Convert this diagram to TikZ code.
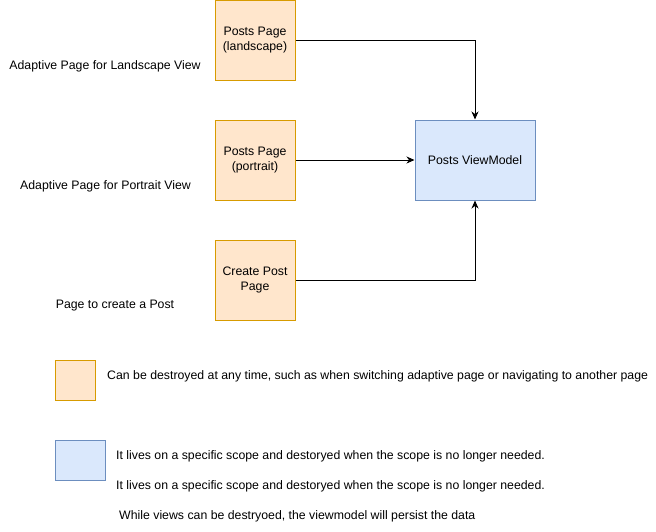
\documentclass[tikz,border=0pt]{standalone}
\usepackage{fontspec}
\setmainfont{Liberation Sans}
\usetikzlibrary{arrows.meta}
\definecolor{pagefill}{HTML}{FFE6CC}
\definecolor{pagedraw}{HTML}{D79B00}
\definecolor{vmfill}{HTML}{DAE8FC}
\definecolor{vmdraw}{HTML}{6C8EBF}
\tikzset{
    every node/.style={font=\fontsize{12.3}{14.5}\selectfont, inner sep=0pt},
    pagebox/.style={rectangle, draw=pagedraw, fill=pagefill, line width=1pt,
        minimum width=80pt, minimum height=80pt, align=center},
    vmbox/.style={rectangle, draw=vmdraw, fill=vmfill, line width=1pt,
        minimum width=120pt, minimum height=80pt, align=center}
}
\tikzset{
    flow/.style={line width=1pt, -{Stealth[length=8pt, width=7pt, inset=2.5pt]}}
}
\begin{document}
\begin{tikzpicture}[x=1pt, y=-1pt]
  \useasboundingbox (0,0) rectangle (656,531);
  \node (land) [pagebox] at (255, 40) {Posts Page\\(landscape)};
  \node (port) [pagebox] at (255, 160) {Posts Page\\(portrait)};
  \node (create) [pagebox] at (255, 280) {Create Post\\Page};
  \node (vm) [vmbox] at (475, 160) {Posts ViewModel};

  \node (landtxt) at (105, 66) {Adaptive Page for Landscape View};
  \node (porttxt) at (105.5, 186) {Adaptive Page for Portrait View};
  \node (createtxt) at (115, 306) {Page to create a Post};

  \draw [flow] (land.east) -| (vm.north);
  \draw [flow] (port.east) -- (vm.west);
  \draw [flow] (create.east) -| (vm.south);

  % legend
  \node (keypage) [pagebox, minimum width=40pt, minimum height=40pt] at (75, 380) {};
  \node (keyvm) [vmbox, minimum width=50pt, minimum height=40pt] at (80, 460) {};
  \node (pagetxt) [anchor=west] at (107, 376) {Can be destroyed at any time, such as when switching adaptive page or navigating to another page};
  \node (vmtxt1) [anchor=west] at (116, 456) {It lives on a specific scope and destoryed when the scope is no longer needed.};
  \node (vmtxt2) [anchor=west] at (116, 486) {It lives on a specific scope and destoryed when the scope is no longer needed.};
  \node (vmtxt3) [anchor=west] at (119, 516) {While views can be destryoed, the viewmodel will persist the data};
\end{tikzpicture}
\end{document}
